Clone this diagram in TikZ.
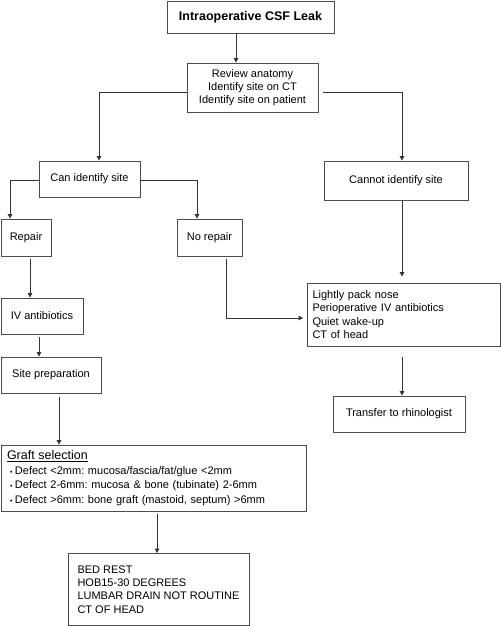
\documentclass[tikz,border=0pt]{standalone}
\usepackage{fontspec}
\setmainfont{Liberation Sans}
\usetikzlibrary{arrows.meta, positioning}
\frenchspacing

\begin{document}
\begin{tikzpicture}[x=1pt, y=-1pt,
  every node/.style={font=\fontsize{11}{13.3}\selectfont},
  box/.style={draw=black!70, line width=0.8pt, inner sep=0pt, align=center},
  lbox/.style={box, align=left, inner xsep=#1, inner ysep=0pt},
  arr/.style={-{Triangle[length=4.5pt,width=4.5pt]}, line width=0.8pt, draw=black!80}]
\useasboundingbox (0,0) rectangle (501,627);
% top of the chart
\node[box, minimum width=167, minimum height=32, font=\bfseries\fontsize{12.5}{15}\selectfont] (leak) at (250.5,17) {Intraoperative CSF Leak};
\node[box, minimum width=131, minimum height=49] (review) at (252.5,87.5) {Review anatomy\\Identify site on CT\\Identify site on patient};
% the two branches
\node[box, minimum width=101, minimum height=36] (can) at (89.5,179) {Can identify site};
\node[box, minimum width=144, minimum height=39] (cannot) at (396,180.5) {Cannot identify site};
\node[box, minimum width=50, minimum height=37] (repair) at (26,237.5) {Repair};
\node[box, minimum width=65, minimum height=37] (norepair) at (209.5,237.5) {No repair};
% left column
\node[box, minimum width=82, minimum height=36] (iv) at (42,316) {IV antibiotics};
\node[box, minimum width=100, minimum height=36] (site) at (51,375) {Site preparation};
\node[lbox=5.5pt, text width=294pt, minimum height=66, font=\fontsize{11}{14.5}\selectfont] (graft) at (154,478)
  {{\fontsize{12.5}{15}\selectfont\underline{Graft selection}}\\
   \hspace{3pt}{\fontsize{7}{7}\selectfont\textbullet}\hspace{2.5pt}Defect <2mm: mucosa/fascia/fat/glue <2mm\\
   \hspace{3pt}{\fontsize{7}{7}\selectfont\textbullet}\hspace{2.5pt}Defect 2-6mm: mucosa \& bone (tubinate) 2-6mm\\
   \hspace{3pt}{\fontsize{7}{7}\selectfont\textbullet}\hspace{2.5pt}Defect >6mm: bone graft (mastoid, septum) >6mm};
\node[lbox=9.5pt, minimum width=179, minimum height=72] (bed) at (158.5,589.5)
  {BED REST\\HOB15-30 DEGREES\\LUMBAR DRAIN NOT ROUTINE\\CT OF HEAD};
% right column
\node[lbox=5pt, text width=183pt, minimum height=63] (pack) at (404,314.5)
  {Lightly pack nose\\Perioperative IV antibiotics\\Quiet wake-up\\CT of head};
\node[box, minimum width=132, minimum height=36] (transfer) at (399,414) {Transfer to rhinologist};
% connectors
\draw[arr] ([xshift=-14.5pt]leak.south) -- ([xshift=-16.5pt]review.north);
\draw[arr] ([yshift=-4.5pt]review.west) -| ([xshift=9.5pt]can.north);
\draw[arr, shorten <=5pt] ([yshift=-4.5pt]review.east) -| ([xshift=6pt]cannot.north);
\draw[arr] ([yshift=-1pt]can.west) -| ([xshift=-16pt]repair.north);
\draw[arr] ([yshift=-1pt]can.east) -| ([xshift=-12.5pt]norepair.north);
\draw[arr, shorten >=6pt] ([xshift=6pt]cannot.south) -- ([xshift=-2pt]pack.north);
\draw[arr, shorten <=3pt, shorten >=4pt] ([xshift=16.5pt]norepair.south) |- ([yshift=-3.5pt]pack.west);
\draw[arr, shorten <=3pt] ([xshift=4pt]repair.south) -- ([xshift=-12pt]iv.north);
\draw[arr, shorten <=3pt] ([xshift=-3pt]iv.south) -- ([xshift=-12pt]site.north);
\draw[arr, shorten <=4pt] ([xshift=8pt]site.south) -- ([xshift=-95pt]graft.north);
\draw[arr, shorten <=11pt] ([xshift=-2pt]pack.south) -- ([xshift=3pt]transfer.north);
\draw[arr, shorten <=3pt] ([xshift=3pt]graft.south) -- ([xshift=-1.5pt]bed.north);
\end{tikzpicture}
\end{document}
